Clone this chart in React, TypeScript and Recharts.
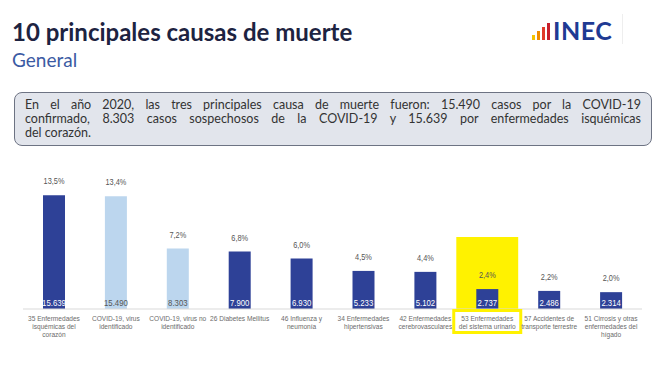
import { BarChart, Bar, XAxis, YAxis, Cell, LabelList, ReferenceArea } from 'recharts';

// causas (cada etiqueta partida en sus líneas)
const causeLines = [
  ['35 Enfermedades', 'isquémicas del', 'corazón'],
  ['COVID-19, virus', 'identificado'],
  ['COVID-19, virus no', 'identificado'],
  ['26 Diabetes Mellitus'],
  ['46 Influenza y', 'neumonía'],
  ['34 Enfermedades', 'hipertensivas'],
  ['42 Enfermedades', 'cerebrovasculares'],
  ['53 Enfermedades', 'del sistema urinario'],
  ['57 Accidentes de', 'transporte terrestre'],
  ['51 Cirrosis y otras', 'enfermedades del', 'hígado'],
];
const deaths = [15639, 15490, 8303, 7900, 6930, 5233, 5102, 2737, 2486, 2314];
const shares = [13.5, 13.4, 7.2, 6.8, 6.0, 4.5, 4.4, 2.4, 2.2, 2.0];
const covidCauses = ['COVID-19, virus identificado', 'COVID-19, virus no identificado'];
const highlighted = '53 Enfermedades del sistema urinario';

const summaryLines = [
  'En el año 2020, las tres principales causa de muerte fueron: 15.490 casos por la COVID-19',
  'confirmado, 8.303 casos sospechosos de la COVID-19 y 15.639 por enfermedades isquémicas',
  'del corazón.',
];

const DARK = '#2e4197';
const LIGHT = '#bcd6ee';
const YELLOW = '#fff200';
const FONT = 'Lato, "Noto Sans", sans-serif';
const SMALL = '"Liberation Sans", Arial, sans-serif';

const fmtMiles = (n: number) => String(n).replace(/\B(?=(\d{3})+(?!\d))/g, '.');
const fmtPct = (n: number) => n.toFixed(1).replace('.', ',') + '%';

const data = causeLines.map((lines, i) => ({
  name: lines.join(' '),
  lines,
  muertes: deaths[i],
  pct: fmtPct(shares[i]),
  miles: fmtMiles(deaths[i]),
}));

// texto estrecho: no hay fuente condensada instalada, se comprime en x
function Narrow({ x, y, size, fill, sx = 0.82, children }: any) {
  return (
    <text transform={`translate(${x} ${y}) scale(${sx} 1)`} x={0} y={0} textAnchor="middle" fontSize={size} fill={fill} fontFamily={SMALL}>
      {children}
    </text>
  );
}

function CauseTick(props: any) {
  const { x, y, payload } = props;
  const row = data.find(d => d.name === payload.value);
  const lines = row ? row.lines : [String(payload.value)];
  const isHi = payload.value === highlighted;
  return (
    <g>
      {isHi && (
        <rect x={x - 33.5} y={y + 1.5} width={67} height={22} fill="#fff" stroke={YELLOW} strokeWidth={3} />
      )}
      {lines.map((l, i) => (
        <Narrow key={i} x={x} y={y + 12 + i * 8.2} size={7} sx={0.94} fill="#6b6b6b">{l}</Narrow>
      ))}
    </g>
  );
}

export default function App() {
  return (
    <div style={{ position: 'absolute', left: 0, top: 0, width: 660, height: 370, background: '#fff', fontFamily: FONT, overflow: 'hidden' }}>
      <div style={{ position: 'absolute', left: 12, top: 17, fontSize: 24, fontWeight: 700, color: '#1d2341' }}>
        10 principales causas de muerte
      </div>
      <div style={{ position: 'absolute', left: 12, top: 48, fontSize: 19, color: '#3b5aa3' }}>General</div>

      {/* logo */}
      <div style={{ position: 'absolute', left: 532, top: 20, height: 20, display: 'flex', alignItems: 'flex-end', gap: 2 }}>
        <div style={{ width: 3, height: 5, background: '#f4c400' }} />
        <div style={{ width: 3, height: 9, background: '#f08c00' }} />
        <div style={{ width: 3, height: 13, background: '#e03a2a' }} />
        <div style={{ width: 3, height: 17, background: '#c81e2c' }} />
        <div style={{ fontSize: 25, fontWeight: 700, color: '#1f3a93', lineHeight: '20px', letterSpacing: 0.5, marginLeft: 1 }}>INEC</div>
      </div>
      <div style={{ position: 'absolute', left: 622, top: 14, width: 1, height: 30, background: '#eee' }} />

      {/* recuadro resumen */}
      <div style={{
        position: 'absolute', left: 14, top: 92, width: 616, height: 42, padding: '5px 10px 5px 10px',
        background: '#e2e5ec', border: '1px solid #6d7383', borderRadius: 8, color: '#333', fontSize: 12.5, lineHeight: '14px',
      }}>
        {summaryLines.map((l, i) => (
          <div key={i} style={{ height: 14, textAlign: 'justify', textAlignLast: i < summaryLines.length - 1 ? 'justify' : 'left', whiteSpace: 'nowrap' }}>
            {l}
          </div>
        ))}
      </div>

      <div style={{ position: 'absolute', left: 0, top: 0 }}>
        <BarChart width={660} height={370} data={data} margin={{ top: 178, right: 18, bottom: 0, left: 23 }}>
          <YAxis hide domain={[0, 18000]} />
          <XAxis
            dataKey="name"
            interval={0}
            height={61}
            tickSize={0}
            tickMargin={0}
            tickLine={false}
            axisLine={{ stroke: '#d9d9d9' }}
            tick={(p: any) => <CauseTick {...p} />}
          />
          <ReferenceArea x1={highlighted} x2={highlighted} y1={0} y2={9900} fill={YELLOW} fillOpacity={1} stroke="none" ifOverflow="visible" />
          <Bar dataKey="muertes" barSize={22} isAnimationActive={false}>
            {data.map(d => (
              <Cell key={d.name} fill={covidCauses.includes(d.name) ? LIGHT : DARK} />
            ))}
            <LabelList
              dataKey="pct"
              content={(p: any) => (
                <Narrow x={p.x + p.width / 2} y={p.y - 11} size={9} fill="#555">{p.value}</Narrow>
              )}
            />
            <LabelList
              dataKey="miles"
              content={(p: any) => {
                const row = data[p.index];
                const light = row && covidCauses.includes(row.name);
                return (
                  <Narrow x={p.x + p.width / 2} y={p.y + p.height - 3} size={9.5} fill={light ? '#555' : '#fff'}>
                    {p.value}
                  </Narrow>
                );
              }}
            />
          </Bar>
        </BarChart>
      </div>
    </div>
  );
}
